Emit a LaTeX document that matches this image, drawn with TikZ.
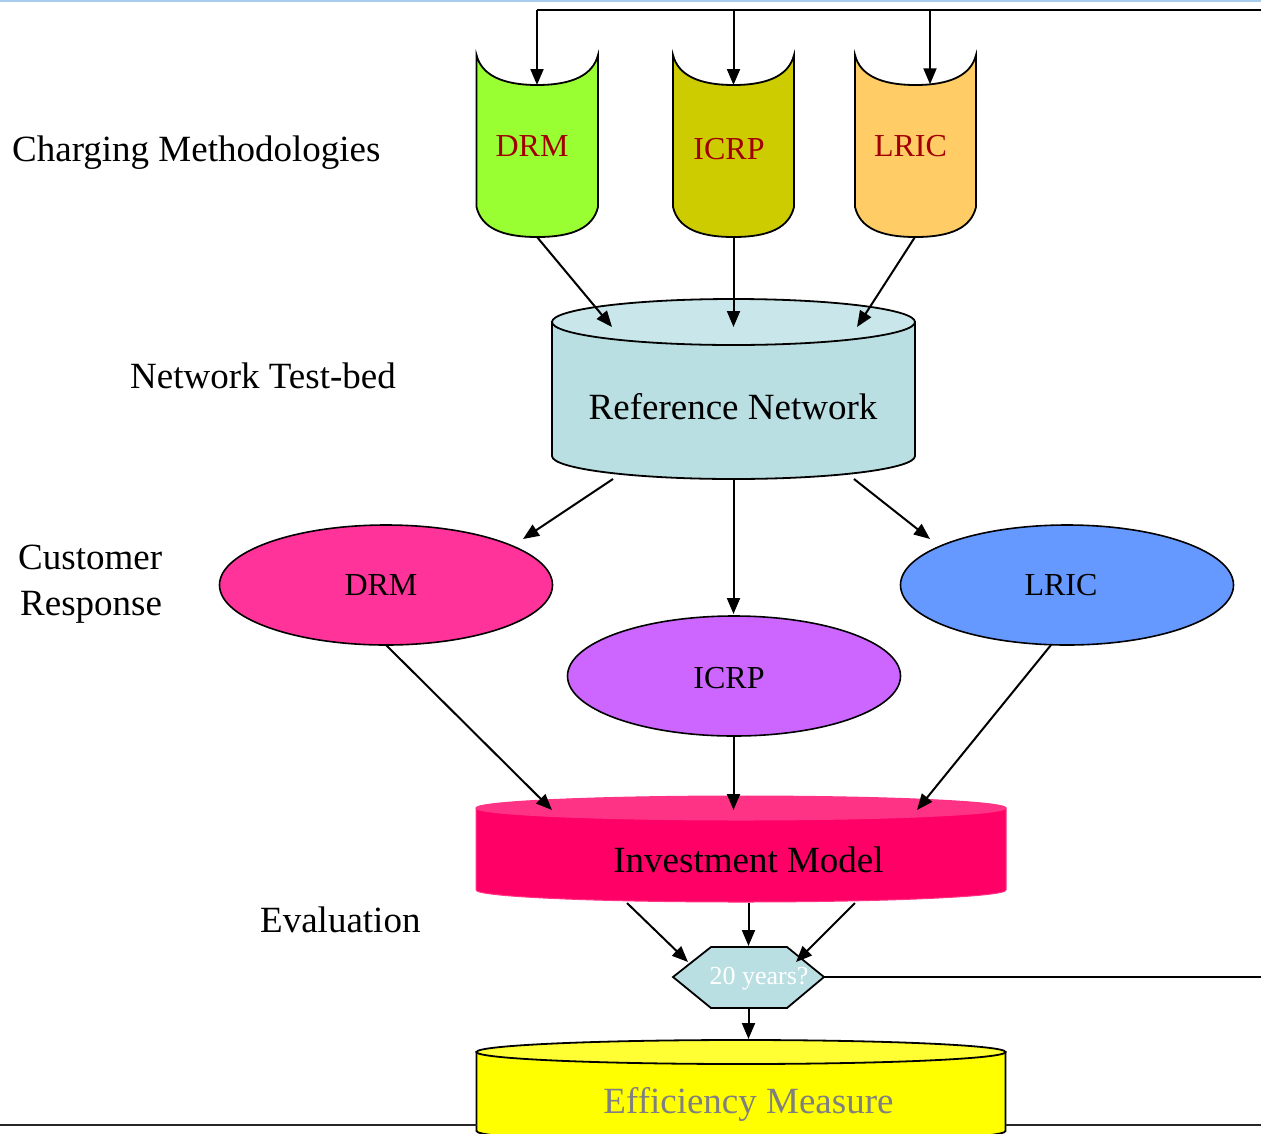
\documentclass[tikz,border=0pt]{standalone}
\usepackage{fontspec}
\setmainfont{Liberation Serif}
\usetikzlibrary{arrows.meta,shapes.geometric}
\definecolor{cgreen}{HTML}{99FF33}
\definecolor{colive}{HTML}{CCCC00}
\definecolor{corange}{HTML}{FFCC66}
\definecolor{cdarkred}{HTML}{A00000}
\definecolor{cteal}{HTML}{B9DFE3}
\definecolor{ctealtop}{HTML}{C9E7EA}
\definecolor{cpink}{HTML}{FF3399}
\definecolor{cpurple}{HTML}{CC66FF}
\definecolor{cblue}{HTML}{6699FF}
\definecolor{crose}{HTML}{FF0066}
\definecolor{crosetop}{HTML}{FF3385}
\definecolor{cyellow}{HTML}{FFFF00}
\definecolor{cyellowtop}{HTML}{FFFF33}
\definecolor{cgraytext}{HTML}{808080}
\definecolor{cslide}{HTML}{A8CCEE}

\newcommand{\tapeshape}[3]{%
  \pgfmathsetmacro{\tL}{#1}\pgfmathsetmacro{\tR}{#2}%
  \pgfmathsetmacro{\tC}{(#1+#2)/2}%
  \draw[outline, fill=#3]
    (\tL,55) .. controls ({\tL+5},75) and ({\tC-35},85) .. (\tC,85)
    .. controls ({\tC+35},85) and ({\tR-5},75) .. (\tR,55)
    -- (\tR,207) .. controls ({\tR-5},228) and ({\tC+35},237) .. (\tC,237)
    .. controls ({\tC-35},237) and ({\tL+5},228) .. (\tL,207) -- cycle;}

% #1 L, #2 R, #3 top centre y, #4 bottom centre y, #5 ry, #6 body, #7 top, #8 draw style
\newcommand{\cylshape}[8]{%
  \pgfmathsetmacro{\cL}{#1}\pgfmathsetmacro{\cR}{#2}%
  \pgfmathsetmacro{\cC}{(#1+#2)/2}\pgfmathsetmacro{\cX}{(#2-#1)/2*0.5523}%
  \pgfmathsetmacro{\cY}{#5*0.5523}%
  \pgfmathsetmacro{\cT}{#3}\pgfmathsetmacro{\cB}{#4}%
  \path[#8, fill=#6]
    (\cL,\cT) -- (\cL,\cB) .. controls (\cL,{\cB+\cY}) and ({\cC-\cX},{\cB+#5}) .. (\cC,{\cB+#5})
    .. controls ({\cC+\cX},{\cB+#5}) and (\cR,{\cB+\cY}) .. (\cR,\cB) -- (\cR,\cT) -- cycle;
  \path[#8, fill=#7] (\cC,\cT) ellipse [x radius={(#2-#1)/2}, y radius=#5];}

\tikzset{
  outline/.style={draw=black, line width=1.8pt},
  conn/.style={line width=2pt, -{Triangle[length=16pt,width=13pt]}},
  plain/.style={line width=2pt},
  biglabel/.style={font=\fontsize{37}{46}\selectfont, inner sep=0pt},
  tapelabel/.style={font=\fontsize{32}{38}\selectfont, text=cdarkred, inner sep=0pt, anchor=base},
  elllabel/.style={font=\fontsize{32}{38}\selectfont, inner sep=0pt, anchor=base},
  ellnode/.style={ellipse, draw=black, line width=1.6pt, minimum width=333pt, minimum height=120pt, inner sep=0pt},
}

\begin{document}
\begin{tikzpicture}[x=1pt,y=-1pt]
\useasboundingbox (0,0) rectangle (1261,1133);
\fill[white] (0,0) rectangle (1261,1133);
\fill[cslide] (0,0) rectangle (1261,2);

% ---- left labels
\node[biglabel, anchor=base west] (lcharge) at (12,161) {Charging Methodologies};
\node[biglabel, anchor=base west] (lnet) at (130,388) {Network Test-bed};
\node[biglabel, anchor=base west] (lcust1) at (18,569) {Customer};
\node[biglabel, anchor=base west] (lcust2) at (20,615) {Response};
\node[biglabel, anchor=base west] (leval) at (260,932) {Evaluation};

% ---- charging methodology tapes
\tapeshape{476.5}{598}{cgreen}
\tapeshape{673}{794}{colive}
\tapeshape{855}{976}{corange}
\node[tapelabel] (tdrm) at (532,156) {DRM};
\node[tapelabel] (ticrp) at (729,159) {ICRP};
\node[tapelabel] (tlric) at (910.5,156) {LRIC};

\coordinate (tdrmtop) at (537,85);
\coordinate (ticrptop) at (733.5,85);
\coordinate (tlrictop) at (930,84.3);
\coordinate (tdrmbot) at (537,237);
\coordinate (ticrpbot) at (733.5,237);
\coordinate (tlricbot) at (915,237);

% ---- feedback line at top
\coordinate (fbright) at (1262,10);
\coordinate (fbdrm) at (537,10);
\coordinate (fbicrp) at (733.5,10);
\coordinate (fblric) at (930,10);
\draw[plain] (fbright) -- (fbdrm);
\draw[conn] (fbdrm) -- (tdrmtop);
\draw[conn] (fbicrp) -- (ticrptop);
\draw[conn] (fblric) -- (tlrictop);

% ---- reference network
\cylshape{552}{915}{322}{456}{23}{cteal}{ctealtop}{outline}
\node[biglabel, anchor=base] (refnet) at (733,419) {Reference Network};
\coordinate (rnin1) at (612,327);
\coordinate (rnin2) at (733.5,327);
\coordinate (rnin3) at (857,327);
\coordinate (rnout1) at (613,479);
\coordinate (rnout2) at (733.5,479);
\coordinate (rnout3) at (854,479);
\draw[conn] (tdrmbot) -- (rnin1);
\draw[conn] (ticrpbot) -- (rnin2);
\draw[conn] (tlricbot) -- (rnin3);

% ---- customer response ellipses
\node[ellnode, fill=cpink] (edrm) at (386,585) {};
\node[ellnode, fill=cpurple] (eicrp) at (734,676) {};
\node[ellnode, fill=cblue] (elric) at (1067,585) {};
\node[elllabel] (edrmt) at (381,595) {DRM};
\node[elllabel] (eicrpt) at (729,688) {ICRP};
\node[elllabel] (elrict) at (1061,595) {LRIC};

\coordinate (edrmin) at (523,539);
\coordinate (eicrpin) at (733.5,614);
\coordinate (elricin) at (930,539);
\draw[conn] (rnout1) -- (edrmin);
\draw[conn] (rnout2) -- (eicrpin);
\draw[conn] (rnout3) -- (elricin);

% ---- investment model
\cylshape{476}{1006}{808}{890}{12}{crose}{crosetop}{draw=crosetop, line width=1pt}
\node[biglabel, anchor=base] (invest) at (748.5,872) {Investment Model};

\coordinate (edrmout) at (386,645);
\coordinate (eicrpout) at (733.5,736);
\coordinate (elricout) at (1051,645);
\coordinate (imin1) at (552,810);
\coordinate (imin2) at (733.5,810);
\coordinate (imin3) at (917,810);
\draw[conn] (edrmout) -- (imin1);
\draw[conn] (eicrpout) -- (imin2);
\draw[conn] (elricout) -- (imin3);

% ---- decision hexagon
\coordinate (hxl) at (673,977);
\coordinate (hxtl) at (711,947);
\coordinate (hxtr) at (787,947);
\coordinate (hxr) at (824,977);
\coordinate (hxbr) at (787,1008);
\coordinate (hxbl) at (711,1008);
\draw[outline, fill=cteal] (hxl) -- (hxtl) -- (hxtr) -- (hxr) -- (hxbr) -- (hxbl) -- cycle;
\node[font=\fontsize{26}{30}\selectfont, text=white, inner sep=0pt, anchor=base] (hexlabel) at (759,984) {20 years?};

\coordinate (imout1) at (627,903);
\coordinate (imout2) at (748.5,903);
\coordinate (imout3) at (855,903);
\coordinate (hxin1) at (688,962);
\coordinate (hxin2) at (748.5,946);
\coordinate (hxin3) at (796,962);
\draw[conn] (imout1) -- (hxin1);
\draw[conn] (imout2) -- (hxin2);
\draw[conn] (imout3) -- (hxin3);

\coordinate (hxloop) at (1262,977);
\draw[plain] (hxr) -- (hxloop);

% ---- efficiency measure
\cylshape{476.5}{1005.5}{1052}{1131}{12}{cyellow}{cyellowtop}{outline}
\node[biglabel, anchor=base, text=cgraytext] (effic) at (748.5,1113) {Efficiency Measure};
\coordinate (hxout) at (748.5,1008);
\coordinate (efin) at (748.5,1039);
\draw[conn] (hxout) -- (efin);

% ---- bottom rule
\coordinate (brl) at (-1,1125);
\coordinate (brm1) at (476.5,1125);
\coordinate (brm2) at (1005.5,1125);
\coordinate (brr) at (1262,1125);
\draw[line width=2pt, black!85] (brl) -- (brm1);
\draw[line width=2pt, black!85] (brm2) -- (brr);
\end{tikzpicture}
\end{document}
